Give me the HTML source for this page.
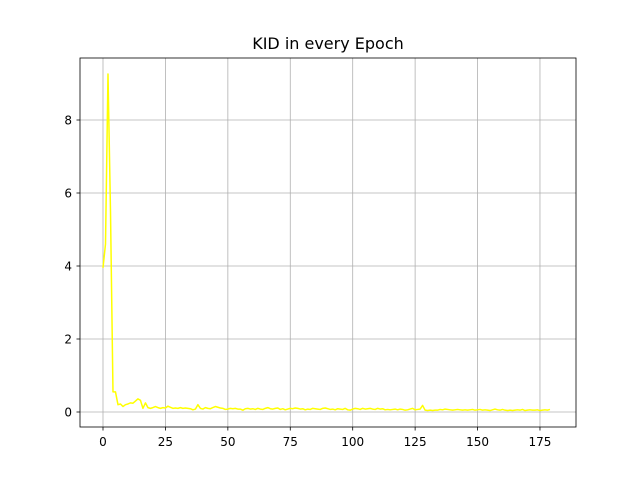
<!DOCTYPE html>
<html><head><meta charset="utf-8"><style>
body{margin:0;background:#fff;}
svg{display:block;font-family:"DejaVu Sans","Liberation Sans",sans-serif;}
</style></head><body>
<svg id="chart" width="640" height="480">
<rect x="0" y="0" width="640" height="480" fill="#fff"/>
<g id="grid"></g><g id="ticks"></g>
<polyline id="line" fill="none" stroke="#ffff00" stroke-width="1.5" stroke-linejoin="round"/>
<rect x="80" y="58" width="496" height="369" fill="none" stroke="#000" stroke-width="0.8"/>
<text x="328" y="49" text-anchor="middle" font-size="16">KID in every Epoch</text>
</svg>
<script>
const xTicks=[0,25,50,75,100,125,150,175];
const yTicks=[0,2,4,6,8];
const head=[3.95,4.6,9.26,5.5,0.55,0.55,0.2,0.22,0.15,0.2,0.22,0.25,0.24,0.3,0.36,0.32,0.1,0.25,0.12,0.1,0.12,0.15,0.12,0.1,0.12,0.11,0.16,0.13,0.1,0.11,0.1,0.12,0.1,0.11,0.1,0.09,0.06,0.08,0.2,0.1,0.08,0.12,0.1,0.09,0.12,0.15,0.13,0.11,0.1,0.07];
const tail=[0.08,0.1,0.09,0.1,0.08,0.08,0.05,0.09,0.1,0.08,0.09,0.07,0.1,0.08,0.07,0.1,0.12,0.09,0.08,0.1,0.11,0.07,0.09,0.06,0.08,0.1,0.09,0.11,0.1,0.08,0.09,0.06,0.08,0.07,0.1,0.09,0.08,0.07,0.1,0.11,0.09,0.07,0.08,0.06,0.09,0.08,0.07,0.1,0.06,0.05,0.08,0.1,0.09,0.07,0.1,0.08,0.09,0.1,0.08,0.07,0.1,0.08,0.09,0.06,0.07,0.06,0.07,0.08,0.06,0.08,0.07,0.05,0.06,0.08,0.1,0.06,0.07,0.08,0.18,0.05,0.04,0.05,0.04,0.05,0.05,0.07,0.06,0.08,0.07,0.06,0.05,0.06,0.07,0.06,0.05,0.06,0.05,0.06,0.07,0.05,0.06,0.07,0.05,0.06,0.05,0.04,0.06,0.08,0.06,0.05,0.07,0.05,0.04,0.05,0.04,0.05,0.06,0.05,0.07,0.04,0.05,0.06,0.05,0.05,0.06,0.04,0.05,0.06,0.05,0.07];
const kid=head.concat(tail);
const X=v=>103+v*2.497;
const Y=v=>412-v*36.5;
const ns="http://www.w3.org/2000/svg";
const grid=document.getElementById('grid'),tk=document.getElementById('ticks');
function el(t,a,p){const e=document.createElementNS(ns,t);for(const k in a)e.setAttribute(k,a[k]);p.appendChild(e);return e;}
xTicks.forEach(v=>{const x=X(v);
const g=el('line',{x1:x,x2:x,y1:58,y2:427,stroke:'#b0b0b0','stroke-width':0.8},grid);


const t=el('line',{x1:x,x2:x,y1:427,y2:430.5,stroke:'#000','stroke-width':0.8},tk);


const l=el('text',{x:x,y:446,'text-anchor':'middle','font-size':12},tk);l.textContent=v;

});
yTicks.forEach(v=>{const y=Y(v);
const g=el('line',{x1:80,x2:576,y1:y,y2:y,stroke:'#b0b0b0','stroke-width':0.8},grid);


const t=el('line',{x1:76.5,x2:80,y1:y,y2:y,stroke:'#000','stroke-width':0.8},tk);


const l=el('text',{x:72,y:y+4.5,'text-anchor':'end','font-size':12},tk);l.textContent=v;

});
document.getElementById('line').setAttribute('points',kid.map((v,i)=>X(i)+','+Y(v)).join(' '));
</script>
</body></html>
